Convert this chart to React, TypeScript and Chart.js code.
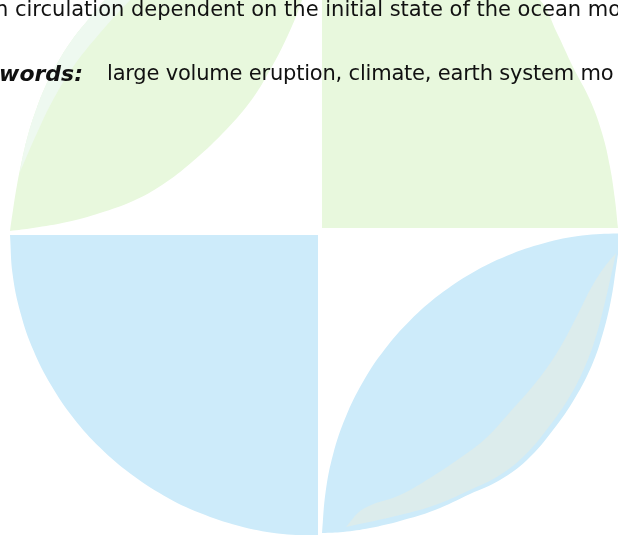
import React, { useEffect, useRef } from "react";
import { Chart, registerables } from "chart.js";

Chart.register(...registerables);

const W = 618;
const H = 535;

// ---- text lines (cropped page text over the watermark) ----
const line1Text = "n circulation dependent on the initial state of the ocean mo";
const line2Label = "words:";
const line2Text = "large volume eruption, climate, earth system mo";

// ---- top-right quarter (green), filled down to its base line ----
const greenQuarterX = [322, 420, 490, 540, 557, 573, 590, 602, 610, 615, 618];
const greenQuarterY = [-105, -80, -45, 0, 33, 67, 100, 133, 167, 200, 228];
const greenQuarterBase = 228;

// ---- bottom-left quarter (blue), filled up to its top line ----
const blueQuarterX = [10, 12.6, 20.5, 33.4, 51.3, 73.6, 100.2, 130.5, 164, 200.1, 238.3, 277.8, 318];
const blueQuarterY = [235, 274.3, 312.9, 350.2, 385.5, 418.2, 447.8, 473.8, 495.7, 513.1, 525.7, 533.4, 536];
const blueQuarterBase = 235;

// ---- top-left leaf (green): upper-left edge and lower-right edge ----
const greenLeafUpperX = [10, 13, 17, 22, 28, 36, 46, 58, 72, 88, 105, 140, 200, 260, 318];
const greenLeafUpperY = [231, 210, 185, 160, 135, 110, 85, 62, 40, 20, 0, -30, -58, -70, -72];
const greenLeafLowerX = [10, 33, 67, 100, 133, 162, 192, 222, 250, 270, 288, 302, 312, 318];
const greenLeafLowerY = [231, 228, 222, 213, 201, 185, 162, 134, 102, 70, 35, 0, -35, -72];

// ---- pale band along the upper-left edge of the green leaf ----
const bandOuterX = [20, 22, 28, 36, 46, 58, 72, 88, 105, 130];
const bandOuterY = [172, 160, 135, 110, 85, 62, 40, 20, 0, -22];
const bandInnerX = [20, 26, 37, 53, 73, 100, 130];
const bandInnerY = [172, 158, 133, 100, 67, 33, 0];

// ---- bottom-right leaf (blue) ----
const blueLeafUpperX = [322, 325.6, 333.2, 345.7, 362.9, 384.6, 410.3, 439.6, 472, 507, 543.9, 582.1, 621];
const blueLeafUpperY = [533, 492.1, 453.9, 417, 382, 349.6, 320.3, 294.6, 272.9, 255.7, 243.2, 235.6, 233];
const blueLeafLowerX = [322, 343, 370, 400, 435, 470, 500, 527, 553, 575, 592, 603, 611, 616, 621];
const blueLeafLowerY = [533, 532, 528, 521, 510, 494, 480, 460, 430, 398, 365, 333, 300, 268, 233];

// ---- inner grey-green leaf inside the blue leaf ----
const greyLeafUpperX = [346, 363, 400, 430, 460, 485, 510, 537, 558, 577, 590, 603, 616];
const greyLeafUpperY = [527, 509, 495, 478, 458, 439, 412, 381, 351, 316, 290, 269, 253];
const greyLeafLowerX = [346, 400, 435, 470, 500, 525, 548, 570, 586, 597, 605, 611, 616];
const greyLeafLowerY = [527, 515, 505, 490, 475, 455, 428, 396, 364, 333, 302, 276, 253];

const GREEN = "#e8f8dd";
const BAND = "#eef9f0";
const BLUE = "#cdebfa";
const GREY = "#dcecec";

const toPts = (xs: number[], ys: number[]) => xs.map((x, i) => ({ x, y: ys[i] }));

export default function App() {
  const ref = useRef<HTMLCanvasElement>(null);

  useEffect(() => {
    if (!ref.current) return;
    const shape = (xs: number[], ys: number[], color: string, fill: any) => ({
      data: toPts(xs, ys),
      showLine: true,
      pointRadius: 0,
      pointHoverRadius: 0,
      borderWidth: 0,
      borderColor: "rgba(0,0,0,0)",
      backgroundColor: color,
      fill,
      tension: 0.4,
    });
    const chart = new Chart(ref.current, {
      type: "scatter",
      data: {
        datasets: [
          shape(bandOuterX, bandOuterY, BAND, "+1"),
          shape(bandInnerX, bandInnerY, BAND, false),
          shape(greenLeafUpperX, greenLeafUpperY, GREEN, "+1"),
          shape(greenLeafLowerX, greenLeafLowerY, GREEN, false),
          shape(greyLeafUpperX, greyLeafUpperY, GREY, "+1"),
          shape(greyLeafLowerX, greyLeafLowerY, GREY, false),
          shape(blueLeafUpperX, blueLeafUpperY, BLUE, "+1"),
          shape(blueLeafLowerX, blueLeafLowerY, BLUE, false),
          shape(greenQuarterX, greenQuarterY, GREEN, { value: greenQuarterBase }),
          shape(blueQuarterX, blueQuarterY, BLUE, { value: blueQuarterBase }),
        ] as any,
      },
      options: {
        animation: false,
        responsive: false,
        maintainAspectRatio: false,
        events: [],
        layout: { padding: 0 },
        elements: { line: { capBezierPoints: false } },
        plugins: {
          legend: { display: false },
          tooltip: { enabled: false },
          title: { display: false },
        },
        scales: {
          x: { type: "linear", min: 0, max: W, display: false },
          y: { type: "linear", min: 0, max: H, reverse: true, display: false },
        },
      } as any,
    });
    return () => chart.destroy();
  }, []);

  const textBase: React.CSSProperties = {
    position: "absolute",
    whiteSpace: "nowrap",
    lineHeight: "21px",
    fontSize: "21px",
    fontFamily: '"DejaVu Sans", sans-serif',
    color: "#111",
  };

  return (
    <div
      style={{
        position: "fixed",
        left: 0,
        top: 0,
        width: W,
        height: H,
        overflow: "hidden",
        background: "#fff",
      }}
    >
      <canvas ref={ref} width={W} height={H} style={{ position: "absolute", left: 0, top: 0, width: W, height: H }} />
      <div style={{ ...textBase, left: -5, top: -1 }}>{line1Text}</div>
      <div
        style={{
          ...textBase,
          right: W - 83,
          top: 63,
          fontWeight: "bold",
          fontStyle: "italic",
          fontSize: "22px",
        }}
      >
        {line2Label}
      </div>
      <div style={{ ...textBase, left: 107, top: 63, letterSpacing: "-0.2px" }}>{line2Text}</div>
    </div>
  );
}
